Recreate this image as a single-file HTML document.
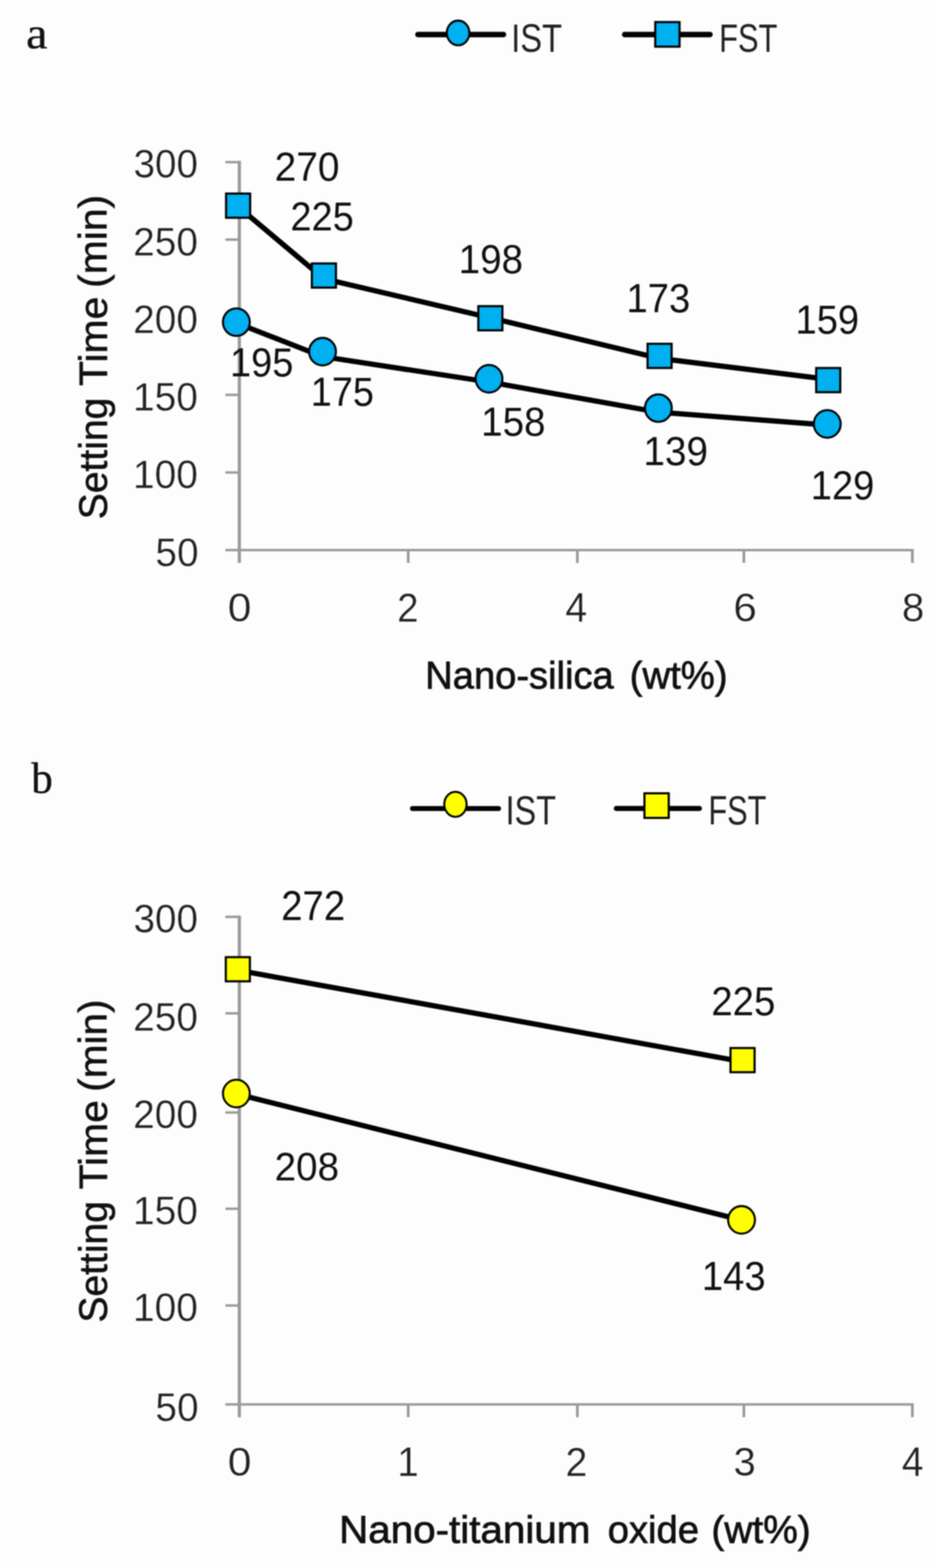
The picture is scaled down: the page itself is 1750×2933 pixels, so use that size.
<!DOCTYPE html>
<html lang="en"><head><meta charset="utf-8"><title>Setting time vs nano-silica and nano-titanium oxide</title>
<style>html,body{margin:0;padding:0;background:#fdfdfd;}body{width:1750px;height:2933px;overflow:hidden;}svg{display:block;filter:blur(1.1px);}text{font-family:"Liberation Sans",sans-serif;font-size:100px;}text.serif{font-family:"Liberation Serif",serif;}</style></head><body>
<svg width="1750" height="2933" viewBox="0 0 1750 2933" role="img" aria-label="Setting time charts">
<rect width="1750" height="2933" fill="#fdfdfd"/>
<!-- chart a -->
<g stroke="#999999" fill="none">
<path stroke-width="6" d="M447.5 300.75 V1053"/>
<path stroke-width="4.5" d="M421.5 1029 H1708.3"/>
<path stroke-width="4.5" d="M421.5 303.3 H447.5"/>
<path stroke-width="4.5" d="M421.5 448.2 H447.5"/>
<path stroke-width="4.5" d="M421.5 593.4 H447.5"/>
<path stroke-width="4.5" d="M421.5 738.6 H447.5"/>
<path stroke-width="4.5" d="M421.5 883.8 H447.5"/>
<path stroke-width="5" d="M763.2 1029 V1053"/>
<path stroke-width="5" d="M1079.5 1029 V1053"/>
<path stroke-width="5" d="M1390.8 1029 V1053"/>
<path stroke-width="5" d="M1705.8 1029 V1053"/>
</g>
<g stroke="#000">
<polyline fill="none" stroke-width="9.8" stroke-linejoin="round" points="445.2,386.5 605.6,521.5 917,594.5 1233.2,670.5 1548.5,709.5"/>
<rect x="422.7" y="362.1" width="45" height="45.2" fill="#00b0f0" stroke="#000" stroke-width="4"/>
<rect x="583.1" y="492.8" width="45" height="45.2" fill="#00b0f0" stroke="#000" stroke-width="4"/>
<rect x="894.3" y="572.7" width="45" height="45.2" fill="#00b0f0" stroke="#000" stroke-width="4"/>
<rect x="1210.7" y="643.1" width="45" height="45.2" fill="#00b0f0" stroke="#000" stroke-width="4"/>
<rect x="1526" y="688.4" width="45" height="45.2" fill="#00b0f0" stroke="#000" stroke-width="4"/>
</g>
<g stroke="#000">
<polyline fill="none" stroke-width="9.8" stroke-linejoin="round" points="441.9,604 603,667 914.3,714.5 1230.9,771 1546.7,795"/>
<ellipse cx="441.9" cy="602.6" rx="25.1" ry="25.8" fill="#00b0f0" stroke="#000" stroke-width="3.8"/>
<ellipse cx="603" cy="657.8" rx="25.1" ry="25.8" fill="#00b0f0" stroke="#000" stroke-width="3.8"/>
<ellipse cx="914.3" cy="708.5" rx="25.1" ry="25.8" fill="#00b0f0" stroke="#000" stroke-width="3.8"/>
<ellipse cx="1230.9" cy="763.4" rx="25.1" ry="25.8" fill="#00b0f0" stroke="#000" stroke-width="3.8"/>
<ellipse cx="1546.7" cy="793" rx="25.1" ry="25.8" fill="#00b0f0" stroke="#000" stroke-width="3.8"/>
</g>
<g stroke="#000"><path d="M781.3 64.6 H941.4" stroke-width="10.2" stroke-linecap="round"/><ellipse cx="856.5" cy="61.6" rx="21.1" ry="23.1" fill="#00b0f0" stroke="#000" stroke-width="3.8"/></g>
<g stroke="#000"><path d="M1167.85 64.6 H1327.5" stroke-width="10.2" stroke-linecap="round"/><rect x="1225.1" y="41.3" width="45.4" height="46" fill="#00b0f0" stroke="#000" stroke-width="4"/></g>
<!-- chart b -->
<g stroke="#999999" fill="none">
<path stroke-width="6" d="M447.5 1712.75 V2651"/>
<path stroke-width="4.5" d="M421.5 2627 H1708.3"/>
<path stroke-width="4.5" d="M421.5 1715 H447.5"/>
<path stroke-width="4.5" d="M421.5 1895.5 H447.5"/>
<path stroke-width="4.5" d="M421.5 2081 H447.5"/>
<path stroke-width="4.5" d="M421.5 2261 H447.5"/>
<path stroke-width="4.5" d="M421.5 2442 H447.5"/>
<path stroke-width="5" d="M763.2 2627 V2651"/>
<path stroke-width="5" d="M1079.5 2627 V2651"/>
<path stroke-width="5" d="M1390.8 2627 V2651"/>
<path stroke-width="5" d="M1705.8 2627 V2651"/>
</g>
<g stroke="#000">
<polyline fill="none" stroke-width="9.8" stroke-linejoin="round" points="445,1815 1388.5,1986"/>
<rect x="422.2" y="1790.4" width="45" height="45.2" fill="#ffff00" stroke="#000" stroke-width="4"/>
<rect x="1365.8" y="1960.4" width="45" height="45.2" fill="#ffff00" stroke="#000" stroke-width="4"/>
</g>
<g stroke="#000">
<polyline fill="none" stroke-width="9.8" stroke-linejoin="round" points="441.9,2046.2 1386.6,2282.3"/>
<ellipse cx="441.9" cy="2045.5" rx="25.1" ry="25.8" fill="#ffff00" stroke="#000" stroke-width="3.8"/>
<ellipse cx="1386.4" cy="2281.8" rx="25.1" ry="25.8" fill="#ffff00" stroke="#000" stroke-width="3.8"/>
</g>
<g stroke="#000"><path d="M771.2 1512.4 H932.1" stroke-width="9.4" stroke-linecap="round"/><ellipse cx="851.5" cy="1504.5" rx="20.9" ry="23.4" fill="#ffff00" stroke="#000" stroke-width="3.8"/></g>
<g stroke="#000"><path d="M1152.2 1512.3 H1307.7" stroke-width="9.4" stroke-linecap="round"/><rect x="1204.9" y="1483.9" width="45.4" height="46" fill="#ffff00" stroke="#000" stroke-width="4"/></g>
<g>
<text class="serif" transform="matrix(0.9013 0 0 0.8211 48.85 89.98)" fill="#111" stroke="#111" stroke-width="0.731">a</text>
<text transform="matrix(0.6104 0 0 0.7437 955.81 96.56)" fill="#222222">IST</text>
<text transform="matrix(0.5776 0 0 0.7437 1344.38 96.56)" fill="#222222">FST</text>
<text transform="matrix(0.7220 0 0 0.7479 249.66 332.30)" fill="#222222" stroke="#fdfdfd" stroke-width="0.669">300</text>
<text transform="matrix(0.7266 0 0 0.7479 248.92 477.50)" fill="#222222" stroke="#fdfdfd" stroke-width="0.669">250</text>
<text transform="matrix(0.7266 0 0 0.7479 248.92 622.70)" fill="#222222" stroke="#fdfdfd" stroke-width="0.669">200</text>
<text transform="matrix(0.7293 0 0 0.7479 248.48 767.90)" fill="#222222" stroke="#fdfdfd" stroke-width="0.669">150</text>
<text transform="matrix(0.7293 0 0 0.7479 248.48 913.10)" fill="#222222" stroke="#fdfdfd" stroke-width="0.669">100</text>
<text transform="matrix(0.7256 0 0 0.7479 290.55 1058.80)" fill="#222222" stroke="#fdfdfd" stroke-width="0.669">50</text>
<text transform="matrix(0.7979 0 0 0.7479 425.76 1161.80)" fill="#222222" stroke="#fdfdfd" stroke-width="0.669">0</text>
<text transform="matrix(0.7209 0 0 0.7586 742.45 1162.55)" fill="#222222" stroke="#fdfdfd" stroke-width="0.659">2</text>
<text transform="matrix(0.7360 0 0 0.7696 1057.11 1162.55)" fill="#222222" stroke="#fdfdfd" stroke-width="0.650">4</text>
<text transform="matrix(0.7913 0 0 0.7479 1370.99 1161.80)" fill="#222222" stroke="#fdfdfd" stroke-width="0.669">6</text>
<text transform="matrix(0.7532 0 0 0.7479 1686.26 1161.80)" fill="#222222" stroke="#fdfdfd" stroke-width="0.669">8</text>
<text transform="matrix(0.7126 0 0 0.7250 795.05 1288.40)" fill="#111111" stroke="#111111" stroke-width="1.793">Nano-silica</text>
<text transform="matrix(0.7162 0 0 0.7250 1177.35 1288.40)" fill="#111111" stroke="#111111" stroke-width="1.793">(wt%)</text>
<text transform="matrix(0 -0.7314 0.7500 0 199.70 971.39)" fill="#111111" stroke="#111111" stroke-width="1.333">Setting</text>
<text transform="matrix(0 -0.7650 0.7500 0 199.70 722.01)" fill="#111111" stroke="#111111" stroke-width="1.333">Time</text>
<text transform="matrix(0 -0.7638 0.7500 0 198.70 538.38)" fill="#111111" stroke="#111111" stroke-width="1.333">(min)</text>
<text transform="matrix(0.7272 0 0 0.7676 513.46 338.33)" fill="#111111">270</text>
<text transform="matrix(0.7098 0 0 0.7690 542.95 431.33)" fill="#111111">225</text>
<text transform="matrix(0.7213 0 0 0.7690 857.59 511.33)" fill="#111111">198</text>
<text transform="matrix(0.7148 0 0 0.7577 1171.34 583.54)" fill="#111111">173</text>
<text transform="matrix(0.7133 0 0 0.7549 1487.25 624.05)" fill="#111111">159</text>
<text transform="matrix(0.7110 0 0 0.7549 429.97 704.05)" fill="#111111">195</text>
<text transform="matrix(0.7065 0 0 0.7657 581.10 759.03)" fill="#111111">175</text>
<text transform="matrix(0.7213 0 0 0.7620 899.59 815.34)" fill="#111111">158</text>
<text transform="matrix(0.7236 0 0 0.7549 1203.07 870.35)" fill="#111111">139</text>
<text transform="matrix(0.7133 0 0 0.7535 1515.75 933.95)" fill="#111111">129</text>
<text class="serif" transform="matrix(0.8043 0 0 0.8257 58.40 1483.17)" fill="#111" stroke="#111" stroke-width="0.727">b</text>
<text transform="matrix(0.6062 0 0 0.7549 945.24 1542.35)" fill="#222222">IST</text>
<text transform="matrix(0.5742 0 0 0.7549 1324.41 1542.35)" fill="#222222">FST</text>
<text transform="matrix(0.7220 0 0 0.7479 249.66 1744.30)" fill="#222222" stroke="#fdfdfd" stroke-width="0.669">300</text>
<text transform="matrix(0.7266 0 0 0.7479 248.92 1927.80)" fill="#222222" stroke="#fdfdfd" stroke-width="0.669">250</text>
<text transform="matrix(0.7266 0 0 0.7479 248.92 2110.30)" fill="#222222" stroke="#fdfdfd" stroke-width="0.669">200</text>
<text transform="matrix(0.7293 0 0 0.7479 248.48 2290.30)" fill="#222222" stroke="#fdfdfd" stroke-width="0.669">150</text>
<text transform="matrix(0.7293 0 0 0.7479 248.48 2471.30)" fill="#222222" stroke="#fdfdfd" stroke-width="0.669">100</text>
<text transform="matrix(0.7256 0 0 0.7479 290.55 2657.80)" fill="#222222" stroke="#fdfdfd" stroke-width="0.669">50</text>
<text transform="matrix(0.8000 0 0 0.7479 425.65 2760.30)" fill="#222222" stroke="#fdfdfd" stroke-width="0.669">0</text>
<text transform="matrix(0.7209 0 0 0.7696 742.74 2761.05)" fill="#222222" stroke="#fdfdfd" stroke-width="0.650">1</text>
<text transform="matrix(0.7363 0 0 0.7586 1057.37 2761.05)" fill="#222222" stroke="#fdfdfd" stroke-width="0.659">2</text>
<text transform="matrix(0.7468 0 0 0.7479 1371.46 2760.30)" fill="#222222" stroke="#fdfdfd" stroke-width="0.669">3</text>
<text transform="matrix(0.7320 0 0 0.7696 1686.12 2761.05)" fill="#222222" stroke="#fdfdfd" stroke-width="0.650">4</text>
<text transform="matrix(0.7553 0 0 0.7250 633.91 2885.80)" fill="#111111" stroke="#111111" stroke-width="1.793">Nano-titanium</text>
<text transform="matrix(0.7141 0 0 0.7250 1136.19 2885.80)" fill="#111111" stroke="#111111" stroke-width="1.793">oxide</text>
<text transform="matrix(0.7273 0 0 0.7250 1329.99 2885.80)" fill="#111111" stroke="#111111" stroke-width="1.793">(wt%)</text>
<text transform="matrix(0 -0.7308 0.7500 0 199.70 2474.09)" fill="#111111" stroke="#111111" stroke-width="1.333">Setting</text>
<text transform="matrix(0 -0.7641 0.7500 0 199.70 2224.71)" fill="#111111" stroke="#111111" stroke-width="1.333">Time</text>
<text transform="matrix(0 -0.7592 0.7500 0 198.70 2042.35)" fill="#111111" stroke="#111111" stroke-width="1.333">(min)</text>
<text transform="matrix(0.7172 0 0 0.7771 525.71 1721.30)" fill="#111111">272</text>
<text transform="matrix(0.7225 0 0 0.7465 513.39 2207.55)" fill="#111111">208</text>
<text transform="matrix(0.7162 0 0 0.7577 1330.02 1898.64)" fill="#111111">225</text>
<text transform="matrix(0.7135 0 0 0.7549 1312.35 2412.55)" fill="#111111">143</text>
</g>
</svg></body></html>
